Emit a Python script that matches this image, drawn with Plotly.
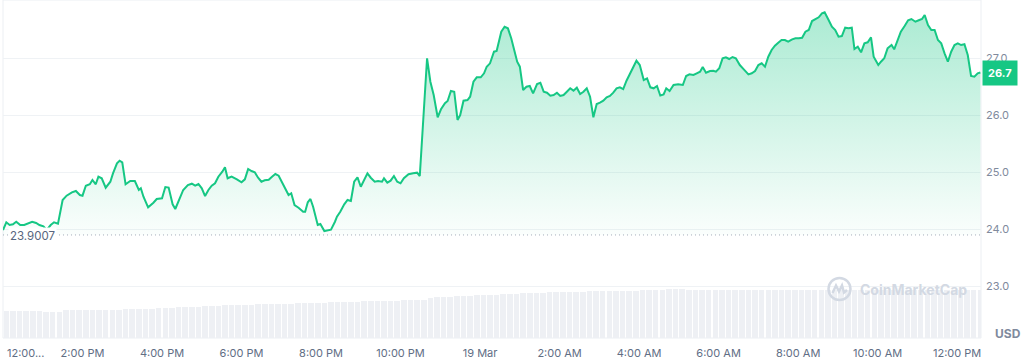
import pandas as pd
import plotly.graph_objects as go

# ---- data ----
start_time = "2024-03-18 12:00"
end_minute = 1476

minutes = [0,5,10,15,20,26,32,38,44,50,55,61,66,72,77,83,
           90,96,104,110,116,120,125,131,135,140,144,149,155,162,166,172,176,180,
           185,192,199,205,208,212,219,227,232,240,245,250,256,260,266,272,
           279,285,290,295,300,305,310,315,320,325,331,335,339,345,353,360,365,370,375,380,
           385,390,395,401,406,411,416,421,426,431,435,440,446,453,456,460,464,468,475,479,485,490,495,501,
           504,509,515,520,525,530,535,540,545,550,555,561,566,572,575,580,585,590,595,600,605,612,619,625,629,
           640,645,650,656,661,667,671,676,681,686,690,695,701,705,710,715,721,726,730,735,741,745,
           752,757,762,767,772,776,780,785,790,795,800,806,811,816,821,826,831,836,841,846,851,856,861,866,871,876,881,886,
           891,896,901,906,911,916,921,926,931,936,941,946,951,956,961,967,972,977,982,987,
           992,997,1001,1006,1012,1019,1026,1031,1036,1042,1047,1052,1056,1061,1067,1072,1076,1081,1086,1091,1096,1101,1106,
           1112,1118,1125,1130,1135,1140,1145,1150,1155,1160,1165,1170,1175,1180,1185,1191,1196,1201,1206,1211,1216,1221,1226,1231,1236,1240,
           1246,1251,1256,1261,1266,1271,1276,1281,1285,1290,1295,1300,1305,1310,1314,1321,1325,1330,1335,1341,1345,1351,1355,
           1361,1366,1371,1377,1382,1387,1391,1396,1401,1406,1411,1416,1421,1426,1431,1436,1441,1446,1451,1456,1461,1466,1471,1475]

prices = [23.988,24.123,24.075,24.088,24.133,24.075,24.075,24.105,24.133,24.111,24.075,24.053,23.988,24.075,24.123,24.098,
          24.514,24.590,24.649,24.672,24.602,24.590,24.765,24.790,24.865,24.790,24.923,24.895,24.730,24.835,24.982,25.158,25.204,25.175,
          24.790,24.847,24.847,24.690,24.719,24.572,24.386,24.467,24.532,24.544,24.742,24.733,24.439,24.356,24.514,24.690,
          24.777,24.800,24.765,24.795,24.719,24.584,24.690,24.765,24.807,24.923,25.011,25.088,24.895,24.923,24.877,24.825,24.877,25.058,25.023,25.000,
          24.905,24.835,24.860,24.870,24.923,24.970,24.940,24.825,24.719,24.602,24.632,24.426,24.379,24.309,24.309,24.474,24.532,24.397,24.075,24.093,23.970,23.988,23.993,24.133,
          24.221,24.309,24.439,24.514,24.497,24.835,24.912,24.747,24.865,24.982,24.905,24.835,24.847,24.835,24.895,24.818,24.853,24.935,24.835,24.807,24.895,24.965,24.982,24.993,24.935,
          27.000,26.589,26.356,25.965,26.105,26.211,26.251,26.426,26.414,25.918,26.005,26.256,26.268,26.326,26.589,26.667,26.667,26.737,26.853,26.912,27.116,27.128,
          27.467,27.554,27.526,27.351,27.116,26.940,26.853,26.444,26.502,26.514,26.386,26.549,26.572,26.414,26.397,26.344,26.356,26.397,26.339,26.356,26.414,26.474,26.432,26.484,26.374,26.414,26.474,26.326,
          25.965,26.198,26.221,26.256,26.316,26.339,26.397,26.474,26.491,26.461,26.607,26.719,26.853,26.958,26.882,26.619,26.649,26.491,26.474,26.514,
          26.347,26.365,26.474,26.426,26.532,26.544,26.532,26.690,26.719,26.707,26.737,26.765,26.847,26.747,26.777,26.782,26.765,26.825,27.000,27.018,26.988,27.023,27.000,
          26.882,26.807,26.719,26.737,26.777,26.882,26.912,26.853,27.028,27.146,27.221,27.274,27.321,27.321,27.291,27.333,27.351,27.351,27.361,27.467,27.497,27.654,27.689,27.719,27.789,27.807,
          27.672,27.554,27.497,27.379,27.391,27.537,27.526,27.537,27.163,27.204,27.105,27.263,27.281,27.368,27.028,26.882,26.940,27.000,27.175,27.233,27.158,27.351,27.467,
          27.572,27.667,27.689,27.642,27.667,27.689,27.760,27.584,27.497,27.497,27.321,27.263,27.088,26.940,27.116,27.233,27.263,27.233,27.246,27.058,26.690,26.677,26.737,26.751]

# volume (millions USD, 10-minute bars)
volumes = [32.0,31.9,32.1,31.8,31.9,31.7,
           30.8,30.9,31.0,
           32.9,33.0,33.1,33.2,33.0,33.2,33.4,33.5,33.6,
           34.2,34.5,34.6,34.8,34.9,35.0,35.2,35.5,
           36.2,36.5,36.8,37.0,
           37.6,38.0,38.3,38.6,38.9,39.1,39.4,39.6,39.8,
           40.0,40.2,40.4,40.6,40.8,41.0,41.2,41.5,41.8,42.0,42.3,
           42.5,42.7,42.9,43.1,43.3,43.5,43.7,43.9,44.1,44.3,
           44.6,44.8,45.0,45.2,
           47.8,48.3,48.6,48.9,49.2,
           49.8,50.2,50.5,50.8,51.0,51.3,51.6,
           52.0,52.4,52.7,53.0,53.3,53.6,
           53.9,54.1,54.3,54.5,54.7,54.9,55.1,55.3,55.5,
           55.6,55.7,55.9,56.0,56.1,56.3,56.5,
           56.9,57.3,57.6,57.7,57.5,
           57.2,57.0,56.9,56.8,56.8,56.7,56.8,56.9,56.8,56.7,56.6,56.7,56.8,56.9,57.0,
           56.9,56.8,56.7,56.8,56.9,57.0,57.1,57.0,56.9,56.8,56.8,56.9,57.0,56.9,56.8,
           56.7,56.8,56.9,57.0,56.9,56.8,56.9,57.0,56.9,56.8,56.7,56.6,56.7,56.8,56.7]
volume_interval_min = 10

baseline_price = 23.9007
last_price_label = "26.7"
y_ticks = [23.0, 24.0, 25.0, 26.0, 27.0]
x_tick_hours = [2, 4, 6, 8, 10, 12, 14, 16, 18, 20, 22, 24]
x_tick_labels = ["2:00 PM", "4:00 PM", "6:00 PM", "8:00 PM", "10:00 PM", "19 Mar",
                 "2:00 AM", "4:00 AM", "6:00 AM", "8:00 AM", "10:00 AM", "12:00 PM"]
first_tick_label = "12:00..."

# ---- build ----
t0 = pd.Timestamp(start_time)
times = [t0 + pd.Timedelta(minutes=m) for m in minutes]
vol_times = [t0 + pd.Timedelta(minutes=volume_interval_min * i + volume_interval_min / 2)
             for i in range(len(volumes))]
t_end = t0 + pd.Timedelta(minutes=end_minute)
tickvals = [t0 + pd.Timedelta(hours=h) for h in x_tick_hours]

GREEN = "#16c784"
GRID = "#eff2f5"
FONT = "Inter"

fig = go.Figure()

fig.add_trace(go.Bar(
    x=vol_times, y=volumes, yaxis="y2",
    width=volume_interval_min * 60 * 1000 * 0.84,
    marker=dict(color="#eef0f4", line=dict(width=0)),
    hoverinfo="skip", showlegend=False,
))

fig.add_trace(go.Scatter(
    x=times, y=[baseline_price] * len(times), mode="lines",
    line=dict(color="#a6adbb", width=1, dash="1px,3px"),
    hoverinfo="skip", showlegend=False,
))

fig.add_trace(go.Scatter(
    x=times, y=prices, mode="lines",
    line=dict(color=GREEN, width=2),
    fill="tonexty",
    fillgradient=dict(type="vertical", start=baseline_price, stop=27.8,
                      colorscale=[[0, "rgba(22,199,132,0.02)"], [1, "rgba(22,199,132,0.36)"]]),
    showlegend=False,
))

W, H = 1024, 363
ml, mr, mt, mb = 3, 43, 0, 25
pw, ph = W - ml - mr, H - mt - mb

def px_x(p):
    return (p - ml) / pw

def px_y(p):
    return (H - mb - p) / ph

shapes = [
    dict(type="rect", xref="paper", yref="paper", x0=0, x1=1, y0=0, y1=1,
         line=dict(color="#eceff3", width=1), layer="below"),
]
# CoinMarketCap watermark logo
cx, cy, r = 839.5, 289.0, 11.0
shapes.append(dict(type="circle", xref="paper", yref="paper",
                   x0=px_x(cx - r), x1=px_x(cx + r), y0=px_y(cy + r), y1=px_y(cy - r),
                   line=dict(color="#d3d9e3", width=2.5)))
wave = [(-7, 4), (-3.5, -3.5), (-0.5, 2.5), (2.5, -3.5), (4.5, 3.5), (7.5, 1)]
path = "M " + " L ".join(f"{px_x(cx + dx):.5f},{px_y(cy + dy):.5f}" for dx, dy in wave)
shapes.append(dict(type="path", xref="paper", yref="paper", path=path,
                   line=dict(color="#d3d9e3", width=2.5)))

annotations = [
    dict(text="23.9007", xref="paper", x=0, xshift=5, xanchor="left",
         yref="y", y=baseline_price, yanchor="middle", yshift=-1, showarrow=False,
         bgcolor="white", font=dict(family=FONT, size=11.5, color="#58667e")),
    dict(text=first_tick_label, xref="paper", x=0, xshift=2, xanchor="left",
         yref="paper", y=0, yanchor="top", yshift=-6, showarrow=False,
         font=dict(family=FONT, size=11, color="#616e85")),
    dict(text="<b>" + last_price_label + "</b>", xref="paper", x=1, xshift=1, xanchor="left",
         yref="y", y=prices[-1], yanchor="middle", showarrow=False,
         bgcolor=GREEN, borderpad=5, font=dict(family=FONT, size=11, color="white")),
    dict(text="<b>USD</b>", xref="paper", x=1, xshift=12, xanchor="left",
         yref="paper", y=0, yanchor="middle", yshift=5, showarrow=False,
         font=dict(family=FONT, size=12, color="#808a9d")),
    dict(text="<b>CoinMarketCap</b>", xref="paper", x=px_x(858), xanchor="left",
         yref="paper", y=px_y(289), yanchor="middle", showarrow=False,
         font=dict(family=FONT, size=14, color="#d3d9e3")),
]

fig.update_layout(
    width=W, height=H,
    margin=dict(l=ml, r=mr, t=mt, b=mb),
    paper_bgcolor="white", plot_bgcolor="white",
    font=dict(family=FONT, size=11, color="#616e85"),
    xaxis=dict(type="date", range=[t0, t_end], tickmode="array", tickvals=tickvals,
               ticktext=x_tick_labels, showgrid=False, zeroline=False, showline=False,
               ticks="", ticklabelstandoff=7,
               tickfont=dict(family=FONT, size=11, color="#616e85")),
    yaxis=dict(side="right", range=[22.093, 28.023], tickmode="array", tickvals=y_ticks,
               tickformat=".1f", showgrid=True, gridcolor=GRID, gridwidth=1,
               zeroline=False, showline=False, ticks="", ticklabelstandoff=4,
               tickfont=dict(family=FONT, size=11, color="#808a9d")),
    yaxis2=dict(overlaying="y", range=[0, 400], visible=False),
    bargap=0,
    shapes=shapes,
    annotations=annotations,
    hovermode=False,
)

fig.write_html("out.html")
